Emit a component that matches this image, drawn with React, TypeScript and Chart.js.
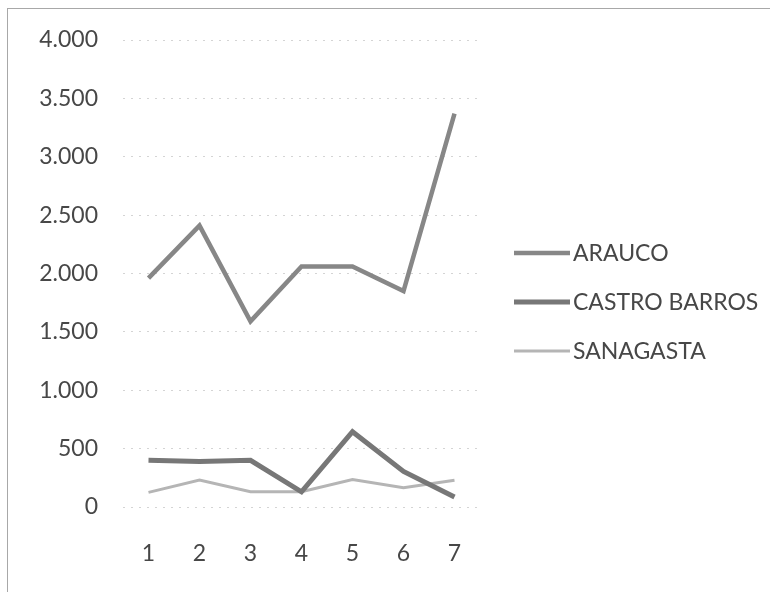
import React, { useEffect, useRef } from "react";
import { Chart, registerables } from "chart.js";

Chart.register(...registerables);

const categories = ["1", "2", "3", "4", "5", "6", "7"];
const seriesNames = ["ARAUCO", "CASTRO BARROS", "SANAGASTA"];
const arauco = [1960, 2410, 1590, 2060, 2060, 1850, 3370];
const castroBarros = [400, 390, 400, 130, 645, 305, 85];
const sanagasta = [125, 230, 130, 130, 235, 165, 230];
const yMin = 0;
const yMax = 4000;
const yStep = 500;

const FONT = "Lato, 'Open Sans', sans-serif";
const TEXT = "#474747";

const fmt = (v: number) => String(v).replace(/\B(?=(\d{3})+(?!\d))/g, ".");

const legendPlugin = {
  id: "customLegend",
  afterDraw(chart: any) {
    const ctx = chart.ctx;
    const x0 = 514;
    const lineLen = 56;
    const top = 253;
    const gap = 49;
    ctx.save();
    chart.data.datasets.forEach((ds: any, i: number) => {
      const y = top + i * gap;
      ctx.beginPath();
      ctx.strokeStyle = ds.borderColor;
      ctx.lineWidth = ds.borderWidth;
      ctx.moveTo(x0, y);
      ctx.lineTo(x0 + lineLen, y);
      ctx.stroke();
      ctx.fillStyle = TEXT;
      ctx.font = `23px ${FONT}`;
      ctx.textBaseline = "middle";
      ctx.textAlign = "left";
      ctx.fillText(ds.label, x0 + lineLen + 3, y + 1);
    });
    ctx.restore();
  },
};

export default function App() {
  const ref = useRef<HTMLCanvasElement | null>(null);

  useEffect(() => {
    if (!ref.current) return;
    const chart = new Chart(ref.current, {
      type: "line",
      data: {
        labels: categories,
        datasets: [
          {
            label: seriesNames[0],
            data: arauco,
            borderColor: "#878787",
            borderWidth: 4.5,
            pointRadius: 0,
            tension: 0,
          },
          {
            label: seriesNames[1],
            data: castroBarros,
            borderColor: "#777777",
            borderWidth: 5,
            pointRadius: 0,
            tension: 0,
          },
          {
            label: seriesNames[2],
            data: sanagasta,
            borderColor: "#b5b5b5",
            borderWidth: 3,
            pointRadius: 0,
            tension: 0,
          },
        ],
      },
      options: {
        animation: false,
        responsive: false,
        devicePixelRatio: 1,
        layout: { padding: { left: 0, right: 290, top: 40, bottom: 0 } },
        plugins: {
          legend: { display: false },
          tooltip: { enabled: false },
        },
        scales: {
          x: {
            offset: true,
            grid: { display: false, drawTicks: false },
            border: { display: false },
            ticks: {
              padding: 33,
              color: TEXT,
              font: { family: FONT, size: 23 },
              maxRotation: 0,
            },
            afterFit: (s: any) => {
              s.height = 85;
            },
          },
          y: {
            min: yMin,
            max: yMax,
            grid: {
              color: "#d4d4d4",
              lineWidth: 1,
              drawTicks: false,
            },
            border: { display: false, dash: [2, 6] },
            ticks: {
              stepSize: yStep,
              padding: 25,
              color: TEXT,
              font: { family: FONT, size: 23 },
              callback: (v: any) => fmt(Number(v)),
            },
            afterFit: (s: any) => {
              s.width = 123;
            },
          },
        },
      },
      plugins: [legendPlugin],
    } as any);
    return () => chart.destroy();
  }, []);

  return (
    <div
      style={{
        position: "fixed",
        left: 0,
        top: 0,
        width: 770,
        height: 592,
        background: "#fff",
        overflow: "hidden",
      }}
    >
      <div
        style={{
          position: "absolute",
          left: 7,
          top: 8,
          right: -10,
          bottom: -10,
          border: "1px solid #a8a8a8",
        }}
      />
      <canvas
        ref={ref}
        width={770}
        height={592}
        style={{ position: "absolute", left: 0, top: 0, width: 770, height: 592 }}
      />
    </div>
  );
}
